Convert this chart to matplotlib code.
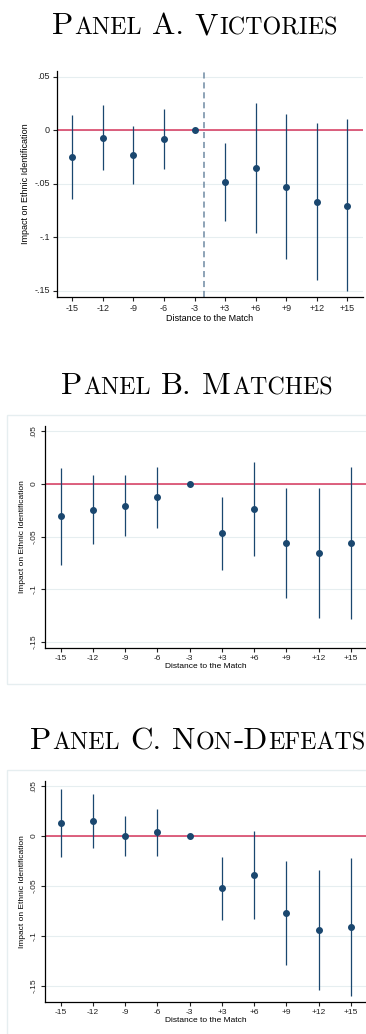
import matplotlib
matplotlib.use("Agg")
import matplotlib.pyplot as plt
from matplotlib.text import Annotation

plt.rcParams["font.family"] = ["Liberation Sans", "DejaVu Sans"]

W, H = 366, 1034
DPI = 100

labels = ["-15", "-12", "-9", "-6", "-3", "+3", "+6", "+9", "+12", "+15"]

# Panel A. Victories
a_est = [-0.025, -0.0069, -0.0228, -0.0084, 0.0, -0.0484, -0.0353, -0.0528, -0.0666, -0.0703]
a_lo = [-0.064, -0.0375, -0.050, -0.0359, 0.0, -0.0850, -0.0959, -0.1203, -0.140, -0.150]
a_hi = [0.014, 0.024, 0.0037, 0.0194, 0.0, -0.0119, 0.025, 0.015, 0.0069, 0.0109]

# Panel B. Matches
b_est = [-0.0306, -0.0242, -0.0207, -0.0127, 0.0, -0.0465, -0.0236, -0.056, -0.0653, -0.0557]
b_lo = [-0.077, -0.0573, -0.0497, -0.0417, 0.0, -0.0815, -0.0685, -0.1083, -0.127, -0.1277]
b_hi = [0.0156, 0.0089, 0.0083, 0.0162, 0.0, -0.0118, 0.0213, -0.0035, -0.0035, 0.0162]

# Panel C. Non-Defeats
c_est = [0.013, 0.0153, 0.0003, 0.0037, 0.0, -0.052, -0.0387, -0.077, -0.094, -0.091]
c_lo = [-0.0213, -0.0123, -0.0197, -0.0203, 0.0, -0.0837, -0.0827, -0.129, -0.154, -0.160]
c_hi = [0.0473, 0.0423, 0.020, 0.027, 0.0, -0.0207, 0.0053, -0.0253, -0.034, -0.0223]

yticks = [0.05, 0, -0.05, -0.1, -0.15]
ytick_labels = [".05", "0", "-.05", "-.1", "-.15"]

NAVY = "#1a476f"
RED = "#d6365c"
GRID = "#e6eef0"
DASH = "#6f8aa3"

fig = plt.figure(figsize=(W / DPI, H / DPI), dpi=DPI)


def px_axes(left, top, right, bottom):
    return fig.add_axes([left / W, 1 - bottom / H, (right - left) / W, (bottom - top) / H])


def smallcaps(x0, base, s, size, ratio=0.77):
    # fake small caps: lower case letters drawn as smaller capitals
    y0 = H - base
    prev = None
    for wi, word in enumerate(s.split(" ")):
        runs = []
        for ch in word:
            low = ch.islower()
            if runs and runs[-1][0] == low:
                runs[-1][1] += ch
            else:
                runs.append([low, ch])
        for ri, (low, run) in enumerate(runs):
            fs = size * ratio if low else size
            kw = dict(fontsize=fs, family="cmr10", va="baseline", ha="left")
            if prev is None:
                t = fig.text(x0 / W, y0 / H, run.upper(), **kw)
            else:
                gap = size * 0.47 if (ri == 0 and wi > 0) else 0.7
                t = Annotation(run.upper(), xy=(1, y0), xycoords=(prev, "figure pixels"),
                               xytext=(gap, 0), textcoords="offset pixels", **kw)
                fig.add_artist(t)
            prev = t


def panel(ax, est, lo, hi, ylim, fs, rot, dashed=False):
    x = list(range(len(labels)))
    for s in ["top", "right"]:
        ax.spines[s].set_visible(False)
    for s in ["left", "bottom"]:
        ax.spines[s].set_linewidth(0.9)
    ax.set_xlim(-0.5, 9.5)
    ax.set_ylim(*ylim)
    ax.set_yticks(yticks)
    ax.set_yticklabels(ytick_labels, rotation=rot, va="center")
    ax.set_xticks(x)
    ax.set_xticklabels(labels)
    ax.tick_params(length=3, width=0.8, labelsize=fs, pad=2, colors="#222222")
    ax.grid(axis="y", color=GRID, lw=0.8)
    ax.set_axisbelow(True)
    ax.axhline(0, color=RED, lw=1.1, zorder=2)
    if dashed:
        ax.axvline(4.3, color=DASH, lw=1.1, ls=(0, (4, 2.5)), zorder=2)
    ax.vlines(x, lo, hi, color=NAVY, lw=0.9, zorder=3)
    ax.plot(x, est, "o", color=NAVY, ms=4, zorder=4)
    ax.set_xlabel("Distance to the Match", fontsize=fs, labelpad=0.5)
    ax.set_ylabel("Impact on Ethnic Identification", fontsize=fs, labelpad=3)


# Panel A
smallcaps(52, 34.3, "Panel A. Victories", 22.5)
ax1 = px_axes(57, 70.7, 362.6, 297)
panel(ax1, a_est, a_lo, a_hi, (-0.1556, 0.0556), 6.5, 0, dashed=True)

# Panel B
fig.add_artist(plt.Rectangle((7.3 / W, 1 - 684 / H), 1.0, (684 - 415) / H,
                             transform=fig.transFigure, fill=False, ec=GRID, lw=1))
smallcaps(61, 394.3, "Panel B. Matches", 22.5)
ax2 = px_axes(44.6, 426, 367.1, 648)
panel(ax2, b_est, b_lo, b_hi, (-0.1557, 0.0552), 6.0, 90)

# Panel C
fig.add_artist(plt.Rectangle((7.3 / W, -0.01), 1.0, (H - 770) / H + 0.01,
                             transform=fig.transFigure, fill=False, ec=GRID, lw=1))
smallcaps(30, 749.3, "Panel C. Non-Defeats", 22.5)
ax3 = px_axes(44.6, 780.7, 367.1, 1002.3)
panel(ax3, c_est, c_lo, c_hi, (-0.1663, 0.0553), 6.0, 90)

fig.savefig("out.png", dpi=DPI)
